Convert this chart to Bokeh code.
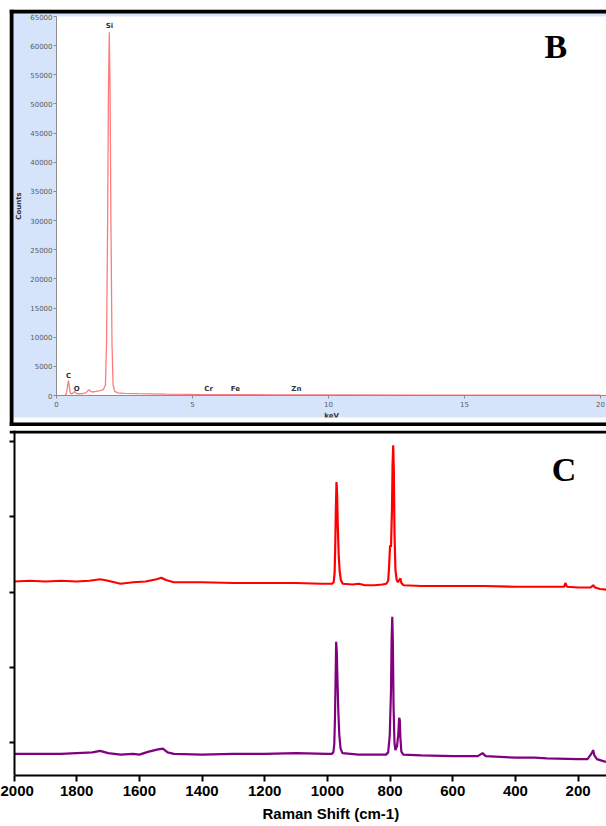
from bokeh.plotting import figure
from bokeh.models import Range1d, BoxAnnotation, Label, Span, FixedTicker, Title
from bokeh.layouts import column
from bokeh.embed import file_html
from bokeh.resources import INLINE
from bokeh.core.properties import value

# ---------------- EDS spectrum (panel B) ----------------
eds_kev = [0.30, 0.34, 0.38, 0.41, 0.44, 0.47, 0.50, 0.55, 0.62, 0.67, 0.72, 0.80,
           0.95, 1.08, 1.15, 1.20, 1.25, 1.32, 1.45, 1.60, 1.72, 1.80, 1.84, 1.88,
           1.91, 1.94, 1.97, 2.00, 2.04, 2.08, 2.14, 2.25, 2.50, 3.00, 3.50, 4.00,
           5.00, 6.00, 8.00, 10.0, 14.0, 20.0]
eds_counts = [0, 150, 700, 1800, 2550, 1600, 500, 250, 450, 700, 350, 300,
              320, 450, 800, 1000, 700, 600, 700, 850, 1000, 1800, 9000, 30000,
              52000, 62300, 52000, 30000, 9000, 1800, 700, 450, 380, 320, 280, 240,
              180, 150, 120, 100, 70, 40]
eds_elements = ["C", "O", "Si", "Cr", "Fe", "Zn"]
eds_label_kev = [0.44, 0.74, 1.95, 5.59, 6.58, 8.82]
eds_label_counts = [3260, 1200, 63300, 1030, 1030, 1030]
eds_xticks = [0, 5, 10, 15, 20]
eds_yticks = [0, 5000, 10000, 15000, 20000, 25000, 30000, 35000, 40000,
              45000, 50000, 55000, 60000, 65000]

# ---------------- Raman spectra (panel C) ----------------
raman_shift_red = [2000, 1950, 1900, 1850, 1800, 1760, 1725, 1700, 1660, 1620, 1580,
                   1545, 1530, 1515, 1490, 1400, 1300, 1200, 1100, 1020,
                   985, 980, 977, 975, 973, 971, 969, 967, 964, 961, 957, 951,
                   920, 900, 880, 850, 825, 812, 806, 803, 800, 797, 794, 792, 790,
                   788, 786, 783, 779, 775, 769, 767, 764, 757, 700, 600, 500, 400,
                   300, 245, 240, 236, 200, 160, 152, 146, 130, 108]
raman_int_red = [2.14, 2.15, 2.14, 2.15, 2.14, 2.15, 2.17, 2.15, 2.11, 2.13, 2.14,
                 2.17, 2.19, 2.16, 2.13, 2.13, 2.12, 2.12, 2.12, 2.11,
                 2.11, 2.13, 2.25, 2.60, 3.10, 3.46, 3.30, 2.90, 2.50, 2.28, 2.16, 2.11,
                 2.10, 2.11, 2.09, 2.09, 2.10, 2.11, 2.15, 2.35, 2.62, 2.60, 3.10, 3.70, 3.95,
                 3.60, 2.80, 2.30, 2.16, 2.13, 2.17, 2.18, 2.12, 2.09, 2.08, 2.08, 2.08, 2.07,
                 2.07, 2.07, 2.12, 2.07, 2.06, 2.06, 2.09, 2.06, 2.04, 2.03]

raman_shift_purple = [2000, 1900, 1850, 1800, 1750, 1725, 1700, 1660, 1620, 1600, 1570,
                      1540, 1525, 1510, 1490, 1400, 1300, 1200, 1100, 1000,
                      986, 981, 978, 976, 974, 972, 970, 968, 965, 962, 958, 952,
                      900, 850, 813, 806, 801, 797, 795, 793, 791, 789, 786, 783,
                      778, 774, 771, 769, 767, 764, 758, 700, 600, 520, 505, 495,
                      400, 340, 300, 200, 170, 158, 152, 148, 140, 125, 108]
raman_int_purple = [-0.15, -0.15, -0.15, -0.14, -0.13, -0.11, -0.14, -0.16, -0.15, -0.16, -0.12,
                    -0.09, -0.08, -0.13, -0.15, -0.16, -0.15, -0.15, -0.14, -0.15,
                    -0.15, -0.13, -0.02, 0.30, 0.80, 1.34, 1.20, 0.85, 0.40, 0.10, -0.08, -0.14,
                    -0.16, -0.16, -0.16, -0.13, 0.10, 0.70, 1.40, 1.67, 1.30, 0.50, 0.00, -0.10,
                    -0.05, 0.10, 0.33, 0.30, 0.05, -0.12, -0.16, -0.17, -0.18, -0.18, -0.14, -0.18,
                    -0.20, -0.20, -0.21, -0.22, -0.22, -0.15, -0.10, -0.17, -0.22, -0.24, -0.26]
raman_xticks = [2000, 1800, 1600, 1400, 1200, 1000, 800, 600, 400, 200]
raman_yticks = [0, 1, 2, 3, 4]

W = 606

# ---- pixel -> data helpers (layout geometry only) ----
def kx(px):   # panel B: page x -> keV
    return (px - 56) / 27.2

def cy(py):   # panel B: page y -> counts
    return (395 - py) * 65000 / 379

def rx(px):   # panel C: page x -> Raman shift
    return 2000 - (px - 13.5) / 0.3134

def ry(py):   # panel C: page y -> intensity
    return (743 - py) / 75.5

# ================= Panel B =================
p1 = figure(width=W, height=426, title=None,
            x_range=Range1d(kx(9), kx(W)), y_range=Range1d(cy(426), cy(9)),
            output_backend="svg", toolbar_location=None,
            min_border_left=9, min_border_right=0, min_border_top=9, min_border_bottom=0)
p1.border_fill_color = "white"
p1.background_fill_color = "#D5E4FA"
p1.outline_line_color = None
p1.grid.visible = False

# white plotting area
p1.quad(left=eds_xticks[0], right=kx(W) + 1, bottom=eds_yticks[0], top=eds_yticks[-1],
        fill_color="white", line_color=None)
p1.line(eds_kev, eds_counts, line_color="#FF7B7B", line_width=1.3)
p1.text(x=eds_label_kev, y=eds_label_counts, text=eds_elements,
        text_font=value("DejaVu Sans"), text_font_size="7px", text_font_style="bold",
        text_align="center", text_baseline="middle", text_color="#333333")

for ax in (p1.xaxis, p1.yaxis):
    ax.fixed_location = 0
    ax.axis_line_color = "#8C8C8C"
    ax.major_tick_line_color = "#8C8C8C"
    ax.major_tick_out = 3
    ax.major_tick_in = 0
    ax.minor_tick_line_color = None
    ax.major_label_text_font = "DejaVu Sans"
    ax.major_label_text_font_size = "7px"
    ax.major_label_text_color = "#5A5A5A"
    ax.axis_label_text_font = "DejaVu Sans"
    ax.axis_label_text_font_size = "7px"
    ax.axis_label_text_font_style = "bold"
    ax.axis_label_text_color = "#333333"
p1.xaxis.ticker = FixedTicker(ticks=eds_xticks)
p1.yaxis.ticker = FixedTicker(ticks=eds_yticks)
p1.xaxis.bounds = (eds_xticks[0], kx(W) + 1)
p1.yaxis.bounds = (eds_yticks[0], eds_yticks[-1])
p1.xaxis.major_label_standoff = 2
p1.yaxis.major_label_standoff = 1
p1.xaxis.axis_label = "keV"
p1.yaxis.axis_label = "Counts"
p1.xaxis.axis_label_standoff = 2
p1.yaxis.axis_label_standoff = 4

p1.add_layout(Label(x=18.36, y=59850, text="B", text_font="Liberation Serif",
                    text_font_size="34px", text_font_style="bold", text_color="black",
                    text_align="center", text_baseline="alphabetic"))
# white strip under the blue area, and the black panel border
p1.add_layout(BoxAnnotation(left=kx(13), right=kx(W) + 1, top=cy(417), bottom=cy(422),
                            fill_color="white", fill_alpha=1.0, line_color=None))
for l, r, t, b in [(kx(9), kx(13), cy(9), cy(426)),
                   (kx(9), kx(W) + 1, cy(9), cy(13)),
                   (kx(9), kx(W) + 1, cy(422), cy(426))]:
    p1.add_layout(BoxAnnotation(left=l, right=r, top=t, bottom=b,
                                fill_color="black", fill_alpha=1.0, line_color=None))

# ================= Panel C =================
p2 = figure(width=W, height=399, title=None,
            x_range=Range1d(rx(9), rx(W)), y_range=Range1d(ry(776), ry(430)),
            output_backend="svg", toolbar_location=None,
            min_border_left=9, min_border_right=0, min_border_top=4, min_border_bottom=49)
p2.border_fill_color = "white"
p2.background_fill_color = "white"
p2.outline_line_color = None
p2.grid.visible = False

p2.line(raman_shift_red, raman_int_red, line_color="#FF0000", line_width=2.2)
p2.line(raman_shift_purple, raman_int_purple, line_color="#800080", line_width=2.2)

for ax in (p2.xaxis, p2.yaxis):
    ax.axis_line_color = "black"
    ax.axis_line_width = 2
    ax.major_tick_line_color = "black"
    ax.major_tick_line_width = 2
    ax.major_tick_in = 0
    ax.minor_tick_line_color = None
p2.xaxis.ticker = FixedTicker(ticks=raman_xticks)
p2.yaxis.ticker = FixedTicker(ticks=raman_yticks)
p2.yaxis.fixed_location = raman_xticks[0]
p2.xaxis.bounds = (raman_xticks[0], rx(W) - 1)
p2.xaxis.major_tick_out = 6
p2.yaxis.major_tick_out = 6
p2.xaxis.major_label_text_font = "Liberation Sans"
p2.xaxis.major_label_text_font_size = "15px"
p2.xaxis.major_label_text_font_style = "bold"
p2.xaxis.major_label_text_color = "black"
p2.xaxis.major_label_standoff = 4
p2.yaxis.major_label_overrides = {t: "" for t in raman_yticks}
p2.yaxis.major_label_standoff = 0

p2.add_layout(Span(location=ry(431.5), dimension="width", line_color="black", line_width=3))
p2.add_layout(Label(x=245, y=3.63, text="C", text_font="Liberation Serif",
                    text_font_size="34px", text_font_style="bold", text_color="black",
                    text_align="center", text_baseline="alphabetic"))
p2.add_layout(Title(text="Raman Shift (cm-1)", align="left", offset=253, standoff=8,
                    text_font="Liberation Sans", text_font_size="15px",
                    text_font_style="bold", text_color="black"), "below")

layout = column(p1, p2, spacing=0)
open("out.html", "w").write(file_html(layout, INLINE))
